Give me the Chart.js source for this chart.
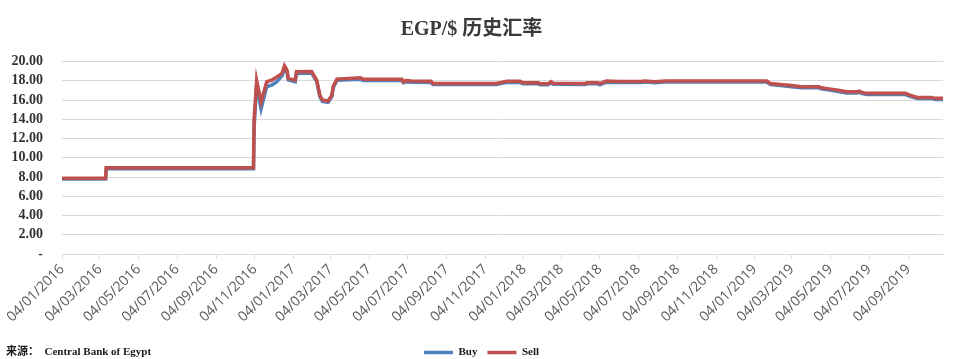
<!DOCTYPE html>
<html>
<head>
<meta charset="utf-8">
<script src="https://cdn.jsdelivr.net/npm/chart.js@4"></script>
<style>
  body { margin: 0; background: #fff; }
  .wrap { position: relative; width: 962px; height: 359px; }
  .source {
    position: absolute; left: 6px; top: 342px;
    font: bold 11px 'Liberation Serif', 'Noto Sans CJK SC', serif;
    color: #1a1a1a; white-space: pre;
  }
</style>
</head>
<body>
<div class="wrap">
  <canvas id="fxChart"></canvas>
  <div class="source">来源：  Central Bank of Egypt</div>
</div>
<script>
// EGP/$ rates, change points
const dates = [
  '2016-01-04', '2016-03-13', '2016-03-14', '2016-11-02', '2016-11-03', '2016-11-07',
  '2016-11-14', '2016-11-23', '2016-12-01', '2016-12-09', '2016-12-17', '2016-12-21',
  '2016-12-25', '2016-12-27', '2017-01-07', '2017-01-09', '2017-02-02', '2017-02-10',
  '2017-02-15', '2017-02-19', '2017-02-28', '2017-03-06', '2017-03-08', '2017-03-14',
  '2017-04-20', '2017-04-25', '2017-06-25', '2017-06-27', '2017-07-02', '2017-07-10',
  '2017-08-10', '2017-08-13', '2017-11-21', '2017-12-08', '2017-12-29', '2018-01-02',
  '2018-01-26', '2018-01-30', '2018-02-11', '2018-02-16', '2018-02-19', '2018-04-11',
  '2018-04-14', '2018-05-01', '2018-05-04', '2018-05-14', '2018-06-04', '2018-07-08',
  '2018-07-14', '2018-07-30', '2018-08-15', '2019-01-23', '2019-01-29', '2019-02-14',
  '2019-03-07', '2019-03-18', '2019-04-16', '2019-04-19', '2019-05-05', '2019-05-21',
  '2019-05-29', '2019-06-15', '2019-06-19', '2019-06-22', '2019-06-30', '2019-08-30',
  '2019-09-07', '2019-09-18', '2019-10-11', '2019-10-17', '2019-10-29'
];
const buyRates = [
  7.78, 7.78, 8.85, 8.85, 13.2, 17.5,
  15.1, 17.4, 17.55, 17.9, 18.5, 19.2,
  18.9, 18.1, 17.9, 18.75, 18.8, 17.95,
  16.35, 15.85, 15.75, 16.35, 17.25, 18.05,
  18.15, 18.02, 18.02, 17.8, 17.9, 17.85,
  17.83, 17.6, 17.6, 17.83, 17.83, 17.68,
  17.68, 17.58, 17.58, 17.78, 17.63, 17.6,
  17.68, 17.68, 17.58, 17.85, 17.82, 17.82,
  17.86, 17.78, 17.86, 17.86, 17.6, 17.5,
  17.36, 17.26, 17.26, 17.15, 17.01, 16.84,
  16.74, 16.74, 16.81, 16.68, 16.57, 16.57,
  16.38, 16.15, 16.15, 16.05, 16.05
];
const sellRates = [
  7.88, 7.88, 8.95, 8.95, 14.0, 18.0,
  15.8, 17.9, 18.07, 18.4, 18.76, 19.55,
  19.1, 18.25, 18.07, 18.93, 18.95, 18.07,
  16.5, 16.0, 15.9, 16.5, 17.4, 18.17,
  18.3, 18.15, 18.15, 17.9, 18.02, 17.98,
  17.95, 17.72, 17.72, 17.95, 17.95, 17.8,
  17.8, 17.7, 17.7, 17.9, 17.75, 17.72,
  17.8, 17.8, 17.7, 17.97, 17.93, 17.93,
  17.98, 17.9, 17.98, 17.98, 17.72, 17.62,
  17.48, 17.38, 17.38, 17.27, 17.13, 16.96,
  16.86, 16.86, 16.93, 16.8, 16.69, 16.69,
  16.5, 16.27, 16.27, 16.17, 16.17
];
const tickLabels = [
  '04/01/2016', '04/03/2016', '04/05/2016', '04/07/2016', '04/09/2016', '04/11/2016',
  '04/01/2017', '04/03/2017', '04/05/2017', '04/07/2017', '04/09/2017', '04/11/2017',
  '04/01/2018', '04/03/2018', '04/05/2018', '04/07/2018', '04/09/2018', '04/11/2018',
  '04/01/2019', '04/03/2019', '04/05/2019', '04/07/2019', '04/09/2019'
];

const start = Date.parse(dates[0]);
function dayOf(iso) {
  return (Date.parse(iso) - start) / 86400000;
}
function labelDay(lbl) {
  const p = lbl.split('/');
  return dayOf(p[2] + '-' + p[1] + '-' + p[0]);
}

const buyPoints = dates.map((d, i) => ({ x: dayOf(d), y: buyRates[i] }));
const sellPoints = dates.map((d, i) => ({ x: dayOf(d), y: sellRates[i] }));

const serif = "'Liberation Serif', 'Noto Sans CJK SC', serif";

// legend sits a bit right of the plot centre in the original
const nudgeLegend = {
  id: 'nudgeLegend',
  afterLayout(chart) {
    chart.legend.left += 10;
    chart.legend.right += 10;
  }
};

new Chart(document.getElementById('fxChart'), {
  type: 'line',
  data: {
    datasets: [{
      label: 'Buy',
      data: buyPoints,
      borderColor: '#4F81BD',
      backgroundColor: '#4F81BD',
      borderWidth: 3.5,
      pointRadius: 0,
      order: 1
    }, {
      label: 'Sell',
      data: sellPoints,
      borderColor: '#C0504D',
      backgroundColor: '#C0504D',
      borderWidth: 3.5,
      pointRadius: 0,
      order: 0
    }]
  },
  options: {
    responsive: true,
    maintainAspectRatio: false,
    animation: false,
    layout: { padding: { left: 0, right: 19, top: 0, bottom: 0 } },
    plugins: {
      title: {
        display: true,
        text: 'EGP/$ 历史汇率',
        color: '#3a3a3a',
        font: { family: serif, size: 20, weight: 'bold' },
        padding: { top: 18, bottom: 19.5 }
      },
      legend: {
        position: 'bottom',
        maxHeight: 22,
        labels: {
          usePointStyle: true,
          pointStyle: 'line',
          pointStyleWidth: 29,
          padding: 10,
          color: '#1a1a1a',
          font: { family: serif, size: 11, weight: 'bold' },
          sort: (a, b) => a.datasetIndex - b.datasetIndex
        }
      },
      tooltip: { enabled: false }
    },
    scales: {
      x: {
        type: 'linear',
        bounds: 'data',
        min: 0,
        max: dayOf(dates[dates.length - 1]),
        afterBuildTicks: scale => {
          scale.ticks = tickLabels.map(l => ({ value: labelDay(l) }));
        },
        afterFit: scale => { scale.height = 83; },
        ticks: {
          autoSkip: false,
          minRotation: 45,
          maxRotation: 45,
          padding: 2,
          color: '#595959',
          font: { family: "'Open Sans', sans-serif", size: 14 },
          callback: (v, i) => tickLabels[i]
        },
        grid: {
          drawOnChartArea: false,
          drawTicks: true,
          tickLength: 5,
          color: '#d9d9d9'
        },
        border: { color: '#d9d9d9' }
      },
      y: {
        min: 0,
        max: 20,
        afterFit: scale => { scale.width = 62; },
        ticks: {
          autoSkip: false,
          stepSize: 2,
          padding: 19,
          color: '#333333',
          font: { family: serif, size: 14, weight: 'bold' },
          callback: v => v === 0 ? '-' : v.toFixed(2)
        },
        grid: { color: '#d9d9d9', drawTicks: false },
        border: { display: false }
      }
    }
  },
  plugins: [nudgeLegend]
});
</script>
</body>
</html>
